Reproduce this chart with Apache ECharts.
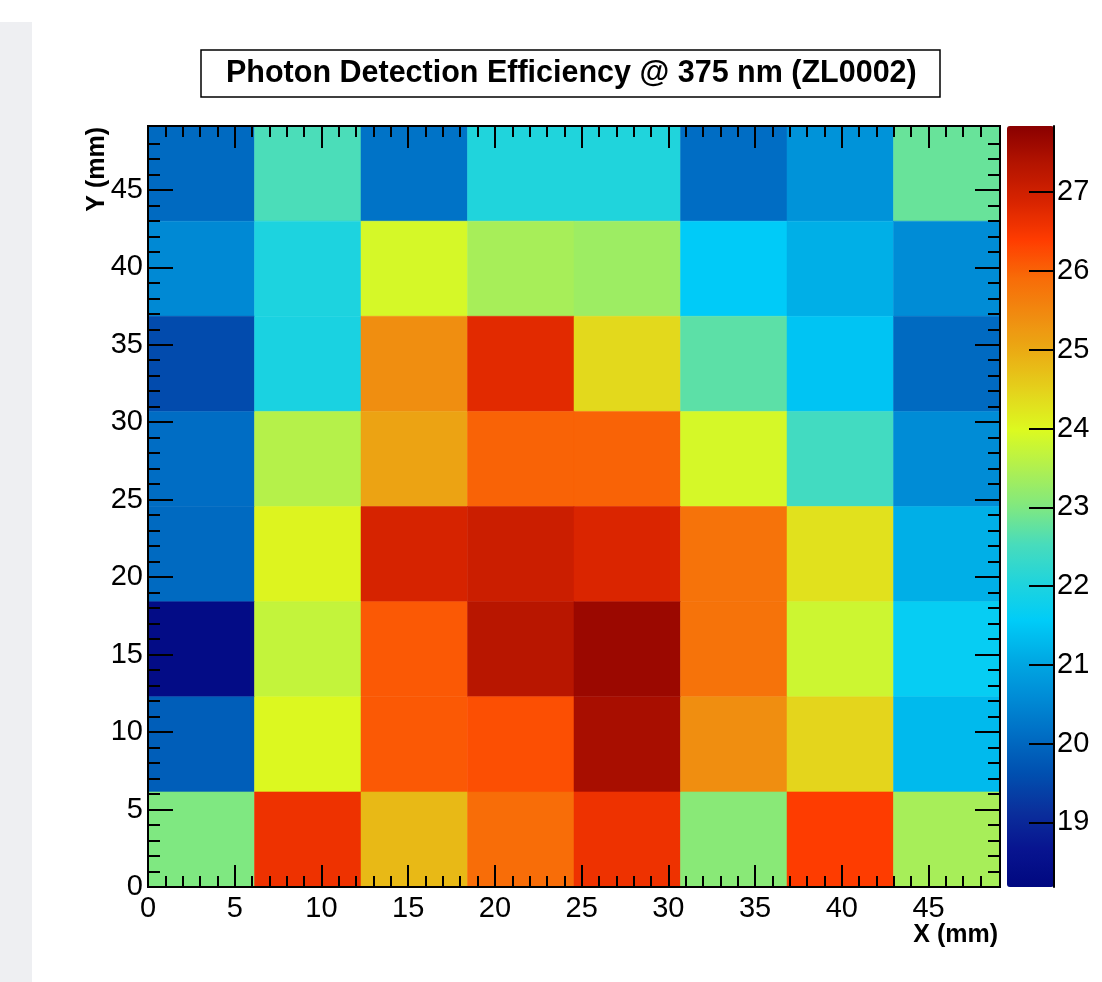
<!DOCTYPE html>
<html>
<head>
<meta charset="utf-8">
<title>Photon Detection Efficiency @ 375 nm (ZL0002)</title>
<script src="https://cdn.jsdelivr.net/npm/echarts@6/dist/echarts.min.js"></script>
<style>
  html, body { margin: 0; padding: 0; background: #fff; }
  #main { width: 1102px; height: 982px; }
</style>
</head>
<body>
<div id="main"></div>
<script>
// pixel pitch (mm), pixels per side, axis range (mm)
const binSize = 6.14;
const nBins = 8;
const axisMax = 49.12;

// PDE (%) per pixel, rows from top (Y ~ 46 mm) down to bottom (Y ~ 3 mm), columns left -> right
const pdeRows = [
  [20.05, 22.55, 20.2, 22.05, 22.05, 20.1, 20.7, 22.8],
  [20.55, 22.0, 23.9, 23.4, 23.3, 21.55, 21.15, 20.6],
  [19.55, 21.95, 25.4, 26.75, 24.4, 22.7, 21.45, 20.05],
  [20.1, 23.55, 25.1, 26.0, 26.0, 23.9, 22.45, 20.6],
  [20.05, 24.05, 26.9, 27.05, 26.85, 25.8, 24.3, 21.15],
  [18.35, 23.7, 26.1, 27.3, 27.65, 25.8, 23.8, 21.65],
  [19.85, 24.0, 26.1, 26.2, 27.5, 25.4, 24.45, 21.3],
  [23.0, 26.6, 24.8, 25.9, 26.6, 23.1, 26.4, 23.4]
];

// colour scale range
const zMin = 18.18;
const zMax = 27.84;

// tick positions
const majorTicks = [0, 5, 10, 15, 20, 25, 30, 35, 40, 45];
const minorTicks = [1, 2, 3, 4, 6, 7, 8, 9, 11, 12, 13, 14, 16, 17, 18, 19, 21, 22, 23, 24,
  26, 27, 28, 29, 31, 32, 33, 34, 36, 37, 38, 39, 41, 42, 43, 44, 46, 47, 48];
const zTicks = [19, 20, 21, 22, 23, 24, 25, 26, 27];

// ROOT-like rainbow palette, evenly spaced from zMin to zMax
const palette = [
  '#000880', '#081490', '#0a309c', '#0050b0', '#006ec4', '#008cd6', '#00aae4',
  '#00ccf8', '#20d4dc', '#48dcbc', '#80e880', '#b0f050', '#dcfa20', '#e4d41c',
  '#eaae14', '#f08c10', '#f86c08', '#ff3c00', '#d82400', '#b41400', '#8a0000'
];

const FONT = 'Liberation Sans, Arial, Helvetica, sans-serif';

// build heatmap cells [x0, y0, value]
const cells = [];
pdeRows.forEach(function (row, r) {
  row.forEach(function (v, c) {
    cells.push([c * binSize, (nBins - 1 - r) * binSize, v]);
  });
});

function frameAxis(position, ticks, len, withLabels) {
  return {
    type: 'value',
    gridIndex: 0,
    position: position,
    min: 0,
    max: axisMax,
    z: 5,
    splitLine: { show: false },
    axisLine: { show: true, onZero: false, lineStyle: { color: '#000', width: 2 } },
    axisTick: {
      show: true, inside: true, length: len, customValues: ticks,
      lineStyle: { color: '#000', width: 2 }
    },
    axisLabel: {
      show: withLabels, customValues: majorTicks, color: '#000',
      fontSize: 29, fontFamily: FONT, margin: position === 'bottom' ? 7 : 5
    }
  };
}

function renderCell(params, api) {
  const x0 = api.value(0);
  const y0 = api.value(1);
  const p0 = api.coord([x0, y0 + binSize]);
  const p1 = api.coord([x0 + binSize, y0]);
  return {
    type: 'rect',
    shape: { x: p0[0], y: p0[1], width: p1[0] - p0[0], height: p1[1] - p0[1] },
    style: { fill: api.visual('color'), stroke: api.visual('color'), lineWidth: 0.5 }
  };
}

let chart = echarts.init(document.getElementById('main'));

let option = {
  backgroundColor: '#fff',
  animation: false,
  title: {
    text: 'Photon Detection Efficiency @ 375 nm (ZL0002)',
    left: 201,
    top: 50,
    padding: [8, 24, 8, 25],
    borderColor: '#000',
    borderWidth: 1.5,
    backgroundColor: '#fff',
    textStyle: { fontSize: 30.5, fontWeight: 'bold', fontFamily: FONT, color: '#000' }
  },
  grid: [
    { left: 148, top: 126, width: 852, height: 761 },
    { left: 1007, top: 126, width: 47, height: 761 }
  ],
  xAxis: [
    frameAxis('bottom', majorTicks, 22, true),
    frameAxis('bottom', minorTicks, 11, false),
    frameAxis('top', majorTicks, 22, false),
    frameAxis('top', minorTicks, 11, false),
    { type: 'value', gridIndex: 1, min: 0, max: 1, show: false }
  ],
  yAxis: [
    frameAxis('left', majorTicks, 25, true),
    frameAxis('left', minorTicks, 12, false),
    frameAxis('right', majorTicks, 25, false),
    frameAxis('right', minorTicks, 12, false),
    {
      type: 'value', gridIndex: 1, position: 'right', min: zMin, max: zMax, z: 5,
      splitLine: { show: false },
      axisLine: { show: true, onZero: false, lineStyle: { color: '#000', width: 2 } },
      axisTick: {
        show: true, inside: true, length: 25, customValues: zTicks,
        lineStyle: { color: '#000', width: 2 }
      },
      axisLabel: {
        show: true, customValues: zTicks, color: '#000',
        fontSize: 29, fontFamily: FONT, margin: 3
      }
    }
  ],
  visualMap: {
    type: 'continuous',
    min: zMin,
    max: zMax,
    dimension: 2,
    seriesIndex: 0,
    calculable: false,
    hoverLink: false,
    left: 1007,
    top: 126,
    itemWidth: 47,
    itemHeight: 761,
    padding: 0,
    inRange: { color: palette }
  },
  graphic: [
    {
      type: 'rect', z: -10, silent: true,
      shape: { x: 0, y: 22, width: 32, height: 960 },
      style: { fill: '#eeeff2' }
    },
    {
      type: 'text',
      x: 998, y: 935,
      style: {
        text: 'X (mm)', fill: '#000', font: 'bold 25px ' + FONT,
        align: 'right', verticalAlign: 'middle', textAlign: 'right', textVerticalAlign: 'middle'
      }
    },
    {
      type: 'text',
      x: 97, y: 127,
      rotation: Math.PI / 2,
      style: {
        text: 'Y (mm)', fill: '#000', font: 'bold 25px ' + FONT,
        align: 'right', verticalAlign: 'middle', textAlign: 'right', textVerticalAlign: 'middle'
      }
    }
  ],
  series: [
    {
      type: 'custom',
      name: 'PDE',
      xAxisIndex: 0,
      yAxisIndex: 0,
      renderItem: renderCell,
      encode: { x: 0, y: 1 },
      data: cells
    }
  ]
};

chart.setOption(option);
</script>
</body>
</html>
